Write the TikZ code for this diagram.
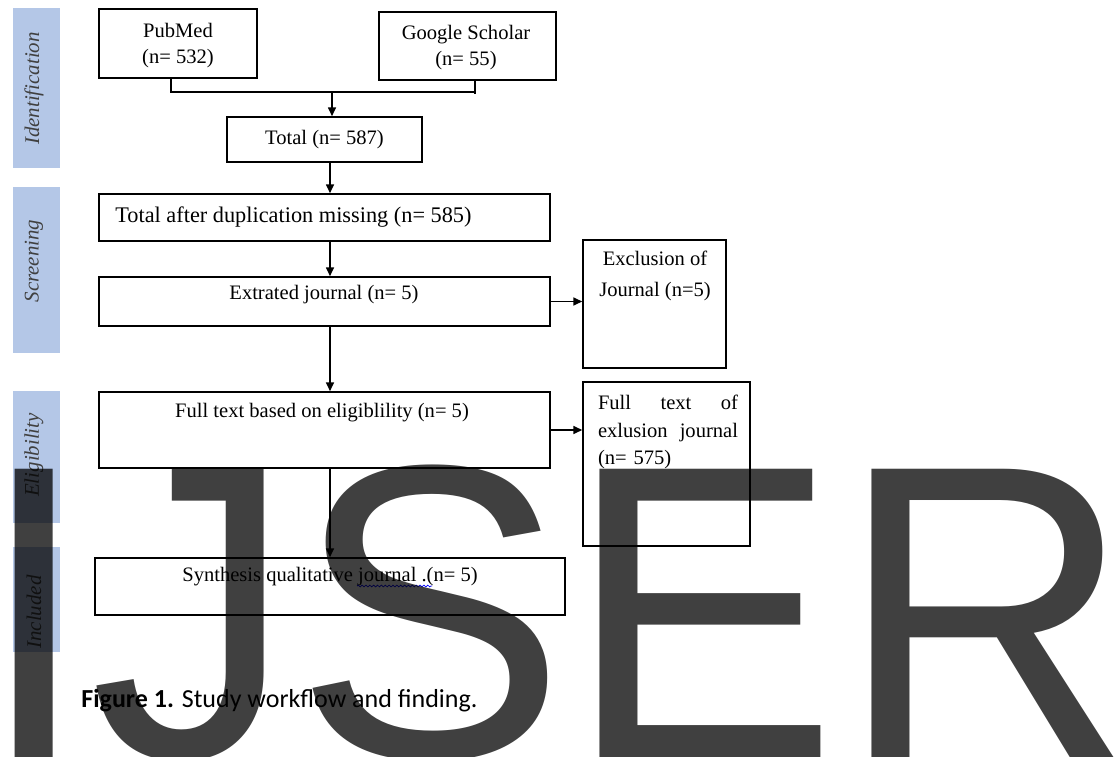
\documentclass[tikz,border=0pt]{standalone}
\usepackage{fontspec}
\setmainfont{Liberation Serif}
\newfontfamily\capfont{Carlito}
\newfontfamily\markfont{Liberation Sans}
\usetikzlibrary{arrows.meta,positioning,decorations.pathmorphing}
\definecolor{barblue}{HTML}{B4C7E7}

\begin{document}
\begin{tikzpicture}[x=0.02cm,y=-0.02cm,
  box/.style={draw,line width=0.9pt,inner sep=0pt},
  txt/.style={inner sep=0pt,align=center,font=\fontsize{11.7}{14.8}\selectfont},
  side/.style={inner sep=0pt,rotate=90,text=black!75,font=\itshape\fontsize{11.9}{14}\selectfont},
  line/.style={line width=0.8pt},
  arr/.style={line width=0.8pt,-{Triangle[length=5pt,width=4.5pt]}},
  wm/.style={inner sep=0pt,anchor=base west,text=black,text opacity=0.75,font=\markfont\fontsize{232}{232}\selectfont}]
  \useasboundingbox (0,0) rectangle (1117,757);
  \clip (0,0) rectangle (1117,757);

  % phase bars on the left
  \fill[barblue] (13,8) rectangle (60,168);
  \fill[barblue] (13,187) rectangle (60,353);
  \fill[barblue] (13,391) rectangle (60,523);
  \fill[barblue] (13,547) rectangle (60,652);
  \node[side] (lbid) at (34,88.5) {Identification};
  \node[side] (lbscr) at (34,261) {Screening};
  \node[side] (lbelig) at (34,455) {Eligibility};
  \node[side] (lbincl) at (34,612) {Included};

  % boxes
  \node[box,minimum width=3.16cm,minimum height=1.38cm] (pub) at (178,43.5) {};
  \node[box,minimum width=3.54cm,minimum height=1.36cm] (gs) at (467.5,46) {};
  \node[box,txt,minimum width=3.9cm,minimum height=0.9cm] (total) at (324.5,139.5) {Total (n= 587)};
  \node[box,minimum width=9.02cm,minimum height=0.94cm] (tadm) at (324.5,217.5) {};
  \node[box,minimum width=9.02cm,minimum height=0.98cm] (extr) at (324.5,301.5) {};
  \node[box,minimum width=9.02cm,minimum height=1.52cm] (fte) at (324.5,430) {};
  \node[box,minimum width=9.4cm,minimum height=1.14cm] (synth) at (330,586.5) {};
  \node[box,minimum width=2.86cm,minimum height=2.56cm] (excl) at (654.5,304) {};
  \node[box,minimum width=3.34cm,minimum height=3.28cm] (ftx) at (666.5,464) {};

  % texts
  \node[txt] (pubtxt) at (178,45.5) {PubMed\\(n= 532)};
  \node[txt] (gstxt) at (466,47.5) {Google Scholar\\(n= 55)};
  \node[txt,anchor=west,font=\fontsize{12.7}{15}\selectfont] (tadmtxt) at (115,217) {Total after duplication missing (n= 585)};
  \node[txt] (extrtxt) at (324,295) {Extrated journal (n= 5)};
  \node[txt] (ftetxt) at (322,413) {Full text based on eligiblility (n= 5)};
  \node[txt,anchor=west] (synthtxt) at (182,577) {Synthesis qualitative journal .(n= 5)};
  \node[txt,font=\fontsize{11.7}{17.6}\selectfont] (excltxt) at (655,276) {Exclusion of\\Journal (n=5)};
  \node[txt,align=left,text width=2.8cm,font=\fontsize{11.7}{15.9}\selectfont] (ftxtxt) at (668,432)
    {Full\hfill text\hfill of\\exlusion\hfill journal\\(n= 575)};
  \draw[blue,line width=0.4pt,decorate,decoration={snake,amplitude=0.5pt,segment length=2.2pt}] (357,586) -- (432,586);

  % connectors
  \coordinate (pubfoot) at (171,92);
  \coordinate (gsfoot) at (475,92);
  \coordinate (join) at (332,92);
  \coordinate (trunk) at (330,0);
  \draw[line] (pub.south -| pubfoot) -- (pubfoot) -- (gsfoot);
  \draw[line] (gs.south -| gsfoot) -- ([yshift=-0.04cm]gsfoot);
  \draw[arr] (join) -- (total.north -| join);
  \draw[arr] (total.south -| trunk) -- (tadm.north -| trunk);
  \draw[arr] (tadm.south -| trunk) -- (extr.north -| trunk);
  \draw[arr] (extr.south -| trunk) -- (fte.north -| trunk);
  \draw[arr] (fte.south -| trunk) -- (synth.north -| trunk);
  \draw[arr] (extr.east) -- (excl.west |- extr.east);
  \draw[arr] (fte.east) -- (ftx.west |- fte.east);

  % caption and watermark
  \node[inner sep=0pt,anchor=base west,font=\capfont\fontsize{14.8}{17}\selectfont] (cap) at (81,707) {\bfseries Figure 1.\mdseries{} Study workflow and finding.};
  \node[wm] (mark) at (-23,757) {\scalebox{1}[1.028]{IJSER}};
\end{tikzpicture}
\end{document}
